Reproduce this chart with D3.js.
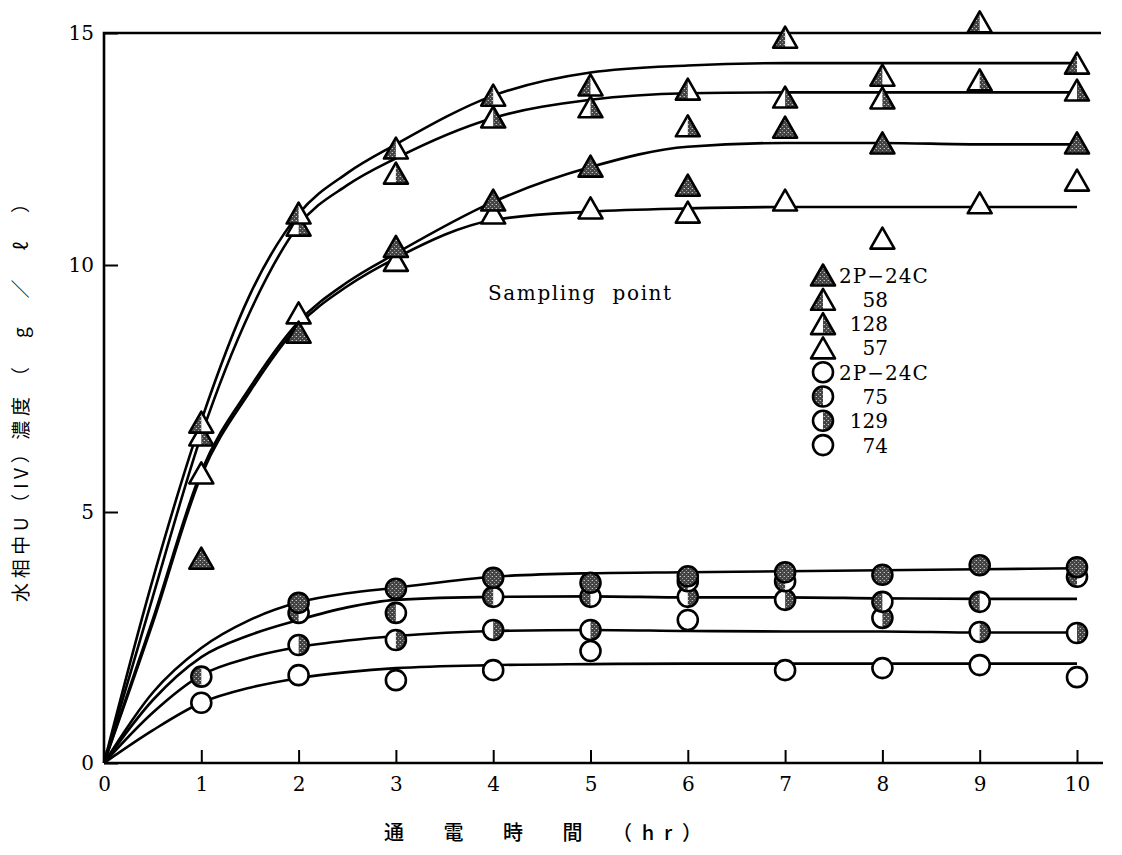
<!DOCTYPE html>
<html>
<head>
<meta charset="utf-8">
<script src="https://cdn.jsdelivr.net/npm/d3@7"></script>
<style>
  body { margin: 0; background: #fff; }
  svg { display: block; }
</style>
</head>
<body>
<svg id="chart" width="1122" height="855"></svg>
<script>
// ---- sampling hours ----
const hours = [1, 2, 3, 4, 5, 6, 7, 8, 9, 10];

// ---- measured U(IV) in aqueous phase, g/l (null = no sample) ----
// triangles
const tri2P24C = [4.08, 8.64, 10.40, 11.40, 12.13, 11.72, 12.97, 12.63, null, 12.63];
const tri58    = [6.82, 11.12, 12.52, 13.66, 13.88, 13.79, 14.91, 14.09, 15.24, 14.35];
const tri128   = [6.56, 10.86, 11.98, 13.19, 13.41, 13.00, 13.62, 13.60, 13.99, 13.77];
const tri57    = [5.79, 9.03, 10.10, 11.12, 11.23, 11.14, 11.40, 10.58, 11.34, 11.83];
// circles
const cir2P24C = [null, 3.19, 3.47, 3.69, 3.59, 3.72, 3.80, 3.75, 3.94, 3.90];
const cir75    = [1.72, 2.99, 2.99, 3.31, 3.31, 3.62, 3.62, 3.21, 3.21, 3.71];
const cir129   = [null, 2.35, 2.45, 2.65, 2.65, 3.31, 3.25, 2.89, 2.61, 2.59];
const cir74    = [1.20, 1.75, 1.65, 1.85, 2.23, 2.85, 1.85, 1.89, 1.95, 1.71];

// ---- smoothed trend curves ----
const fitHours  = [0, 0.5, 1, 1.5, 2, 2.5, 3, 4, 5, 6, 7, 8, 9, 10];
const fitTri58  = [0, 3.65, 6.85, 9.40, 11.10, 11.98, 12.60, 13.65, 14.15, 14.30, 14.35, 14.35, 14.35, 14.35];
const fitTri128 = [0, 3.30, 6.55, 9.05, 10.85, 11.72, 12.30, 13.17, 13.56, 13.70, 13.72, 13.72, 13.72, 13.72];
const fitTri2P  = [0, 2.85, 5.82, 7.52, 8.85, 9.65, 10.25, 11.36, 12.11, 12.55, 12.63, 12.63, 12.60, 12.60];
const fitTri57  = [0, 2.78, 5.74, 7.44, 8.78, 9.57, 10.15, 10.97, 11.15, 11.22, 11.25, 11.25, 11.25, 11.25];
const fitCir2P  = [0, 1.40, 2.29, 2.85, 3.20, 3.38, 3.49, 3.71, 3.78, 3.80, 3.82, 3.84, 3.86, 3.88];
const fitCir75  = [0, 1.25, 2.11, 2.55, 2.85, 3.10, 3.25, 3.31, 3.32, 3.30, 3.30, 3.28, 3.27, 3.27];
const fitCir129 = [0, 1.00, 1.75, 2.10, 2.31, 2.44, 2.53, 2.63, 2.65, 2.63, 2.62, 2.62, 2.60, 2.60];
const fitCir74  = [0, 0.65, 1.20, 1.50, 1.69, 1.81, 1.89, 1.95, 1.97, 1.98, 1.98, 1.98, 1.98, 1.98];

// ---- axes ----
const xTicks = [0, 1, 2, 3, 4, 5, 6, 7, 8, 9, 10];
const yTicks = [0, 5, 10, 15];

// ---- legend ----
const legendLabels = ["2P\u221224C", "58", "128", "57", "2P\u221224C", "75", "129", "74"];
const legendShapes = ["tri", "tri", "tri", "tri", "cir", "cir", "cir", "cir"];
const legendFills  = ["full", "left", "right", "open", "open", "left", "right", "open"];

const yTitleMain = "水相中U（IV）濃度";
const yTitleUnit = "（g／ℓ）";
const xTitle = "通　電　時　間　（hr）";
const note = "Sampling  point";

// ------------------------------------------------------------------
const svg = d3.select("#chart");
svg.append("rect").attr("width", 1122).attr("height", 855).attr("fill", "#fff");

const defs = svg.append("defs");
const pat = defs.append("pattern").attr("id", "stipple")
  .attr("width", 4).attr("height", 4).attr("patternUnits", "userSpaceOnUse");
pat.append("rect").attr("width", 4).attr("height", 4).attr("fill", "#444");
pat.append("rect").attr("x", 0).attr("y", 0).attr("width", 1).attr("height", 1).attr("fill", "#c8c8c8");
pat.append("rect").attr("x", 2).attr("y", 2).attr("width", 1).attr("height", 1).attr("fill", "#9a9a9a");
pat.append("rect").attr("x", 3).attr("y", 0).attr("width", 1).attr("height", 1).attr("fill", "#707070");

const x = d3.scaleLinear().domain([0, 10]).range([104, 1077]);
// printed scale is slightly uneven, so the y mapping is pinned at each labelled tick
const y = d3.scaleLinear().domain([0, 5, 10, 15]).range([763, 512, 265, 33]);

const serif = "'DejaVu Serif', 'Liberation Serif', serif";
const cjk = "'Noto Sans CJK JP', 'Noto Sans CJK SC', sans-serif";

// frame: left, top, bottom
const frame = svg.append("g").attr("stroke", "#000").attr("stroke-width", 2.6).attr("fill", "none");
frame.append("path").attr("d", `M${x(0)},${y(0)}V${y(15)}H${x(10) + 24}`);
frame.append("path").attr("d", `M${x(0)},${y(0)}H${x(10) + 26}`);

const xAxis = d3.axisBottom(x).tickValues(xTicks).tickSizeInner(-13).tickSizeOuter(0)
  .tickPadding(14).tickFormat(d3.format("d"));
const gx = svg.append("g").attr("transform", `translate(0,${y(0)})`).call(xAxis);
gx.select(".domain").remove();
gx.selectAll(".tick line").attr("stroke", "#000").attr("stroke-width", 2);
gx.selectAll(".tick text").attr("font-family", serif).attr("font-size", 20).attr("fill", "#000");

const yAxis = d3.axisLeft(y).tickValues(yTicks).tickSizeInner(-14).tickSizeOuter(0)
  .tickPadding(10).tickFormat(d3.format("d"));
const gy = svg.append("g").attr("transform", `translate(${x(0)},0)`).call(yAxis);
gy.select(".domain").remove();
gy.selectAll(".tick line").attr("stroke", "#000").attr("stroke-width", 2);
gy.selectAll(".tick text").attr("font-family", serif).attr("font-size", 20).attr("fill", "#000");

// titles (vertical title runs bottom-to-top; x in the rotated frame is -pageY)
const yt = svg.append("g").attr("transform", "translate(28,0) rotate(-90)")
  .attr("font-family", cjk).attr("font-size", 19).attr("fill", "#000");
yt.append("text").attr("x", -602).attr("y", 0)
  .attr("textLength", 205).attr("lengthAdjust", "spacing").text(yTitleMain);
yt.append("text").attr("x", -386).attr("y", 0)
  .attr("textLength", 192).attr("lengthAdjust", "spacing").text(yTitleUnit);

svg.append("text")
  .attr("x", 384).attr("y", 840)
  .attr("font-family", cjk).attr("font-size", 20).attr("font-weight", 500).attr("fill", "#000")
  .attr("textLength", 318).attr("lengthAdjust", "spacing")
  .text(xTitle);
svg.append("text")
  .attr("x", 488).attr("y", 300)
  .attr("font-family", serif).attr("font-size", 20).attr("fill", "#000")
  .attr("letter-spacing", 1.6)
  .style("white-space", "pre")
  .text(note);

// trend curves
const line = d3.line().x(d => x(d[0])).y(d => y(d[1])).curve(d3.curveMonotoneX);
const fits = [fitTri58, fitTri128, fitTri2P, fitTri57, fitCir2P, fitCir75, fitCir129, fitCir74];
svg.append("g").selectAll("path").data(fits).join("path")
  .attr("d", f => line(fitHours.map((h, i) => [h, f[i]])))
  .attr("fill", "none").attr("stroke", "#000").attr("stroke-width", 2.6);

// marker builders
function triangle(g, cx, cy, fill) {
  const w = 12, h = 10.5;
  const apex = [cx, cy - h], bl = [cx - w, cy + h], br = [cx + w, cy + h], bm = [cx, cy + h];
  const poly = pts => pts.map(p => p.join(",")).join(" ");
  g.append("polygon").attr("points", poly([apex, bl, br]))
    .attr("fill", fill === "full" ? "url(#stipple)" : "#fff");
  if (fill === "left") g.append("polygon").attr("points", poly([apex, bl, bm])).attr("fill", "url(#stipple)");
  if (fill === "right") g.append("polygon").attr("points", poly([apex, bm, br])).attr("fill", "url(#stipple)");
  g.append("polygon").attr("points", poly([apex, bl, br]))
    .attr("fill", "none").attr("stroke", "#000").attr("stroke-width", 2.6)
    .attr("stroke-linejoin", "round");
}
function circle(g, cx, cy, fill) {
  const r = 10;
  g.append("circle").attr("cx", cx).attr("cy", cy).attr("r", r)
    .attr("fill", fill === "full" ? "url(#stipple)" : "#fff");
  if (fill === "left" || fill === "right") {
    const sweep = fill === "left" ? 0 : 1;
    g.append("path")
      .attr("d", `M${cx},${cy - r}A${r},${r} 0 0 ${sweep} ${cx},${cy + r}Z`)
      .attr("fill", "url(#stipple)");
  }
  g.append("circle").attr("cx", cx).attr("cy", cy).attr("r", r)
    .attr("fill", "none").attr("stroke", "#000").attr("stroke-width", 2.6);
}
const draw = { tri: triangle, cir: circle };

// measured points (later series sit on top)
const series = [
  { vals: tri57, shape: "tri", fill: "open" },
  { vals: tri2P24C, shape: "tri", fill: "full" },
  { vals: tri128, shape: "tri", fill: "right" },
  { vals: tri58, shape: "tri", fill: "left" },
  { vals: cir74, shape: "cir", fill: "open" },
  { vals: cir129, shape: "cir", fill: "right" },
  { vals: cir75, shape: "cir", fill: "left" },
  { vals: cir2P24C, shape: "cir", fill: "full" }
];
const marks = svg.append("g");
series.forEach(s => {
  const g = marks.append("g");
  hours.forEach((h, i) => {
    if (s.vals[i] == null) return;
    draw[s.shape](g, x(h), y(s.vals[i]), s.fill);
  });
});

// legend
const lg = svg.append("g");
legendLabels.forEach((lab, i) => {
  const cy = 275 + i * 24.3;
  draw[legendShapes[i]](lg, 823, cy, legendFills[i]);
  const isName = lab.startsWith("2P");
  lg.append("text")
    .attr("x", isName ? 839 : 888).attr("y", cy + 7.5)
    .attr("text-anchor", isName ? "start" : "end")
    .attr("font-family", serif).attr("font-size", 20).attr("fill", "#000")
    .attr("letter-spacing", isName ? 1 : 0)
    .text(lab);
});
</script>
</body>
</html>
